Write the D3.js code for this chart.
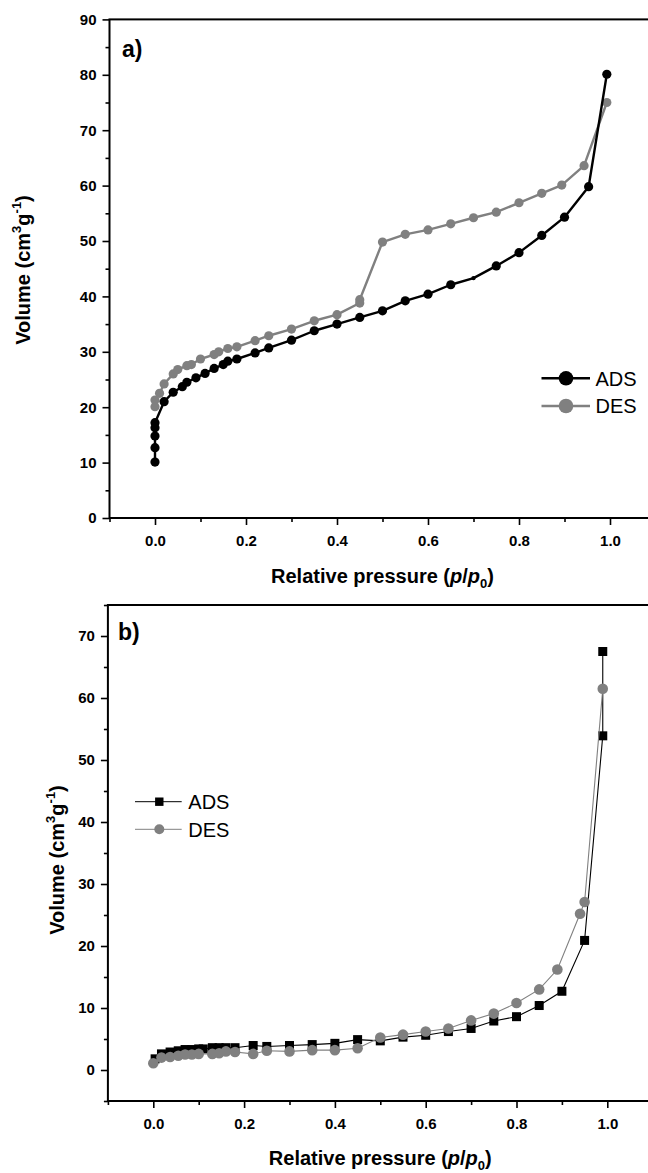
<!DOCTYPE html>
<html>
<head>
<meta charset="utf-8">
<script src="https://cdn.jsdelivr.net/npm/d3@7"></script>
<style>
  html, body { margin: 0; padding: 0; background: #fff; }
  svg { display: block; font-family: Arial, "Liberation Sans", sans-serif; }
</style>
</head>
<body>
<svg id="chart" width="648" height="1173"></svg>
<script>
// ---- Panel a: N2 isotherm (ADS / DES) ----
const adsA_p = [0, 0, 0, 0, 0, 0.02, 0.04, 0.06, 0.07, 0.09, 0.11, 0.13, 0.15, 0.16, 0.18, 0.22, 0.25, 0.30, 0.35, 0.40, 0.45, 0.50, 0.55, 0.60, 0.65, 0.70, 0.75, 0.80, 0.85, 0.90, 0.953, 0.993];
const adsA_v = [10.1, 12.7, 14.8, 16.3, 17.2, 21.0, 22.7, 23.7, 24.5, 25.3, 26.1, 27.0, 27.7, 28.3, 28.7, 29.8, 30.7, 32.1, 33.8, 35.0, 36.2, 37.4, 39.2, 40.4, 42.1, 43.3, 45.5, 47.9, 51.0, 54.3, 59.8, 80.1];
const desA_p = [0.993, 0.943, 0.894, 0.85, 0.80, 0.75, 0.70, 0.65, 0.60, 0.55, 0.50, 0.45, 0.45, 0.40, 0.35, 0.30, 0.25, 0.22, 0.18, 0.16, 0.14, 0.13, 0.10, 0.08, 0.07, 0.05, 0.04, 0.02, 0.01, 0, 0];
const desA_v = [75.0, 63.6, 60.1, 58.6, 56.9, 55.2, 54.2, 53.1, 52.0, 51.2, 49.8, 39.4, 38.8, 36.7, 35.6, 34.1, 32.9, 32.0, 30.9, 30.6, 30.0, 29.5, 28.7, 27.7, 27.5, 26.8, 26.0, 24.2, 22.5, 21.3, 20.1];

// ---- Panel b: N2 isotherm (ADS / DES) ----
const adsB_p = [0.004, 0.018, 0.037, 0.055, 0.07, 0.085, 0.10, 0.11, 0.13, 0.145, 0.16, 0.18, 0.22, 0.25, 0.30, 0.35, 0.40, 0.45, 0.50, 0.55, 0.60, 0.65, 0.70, 0.75, 0.80, 0.85, 0.90, 0.95, 0.99, 0.99];
const adsB_v = [1.8, 2.6, 2.9, 3.1, 3.3, 3.3, 3.4, 3.4, 3.6, 3.6, 3.6, 3.6, 3.95, 3.8, 3.95, 4.1, 4.3, 4.9, 4.7, 5.3, 5.6, 6.2, 6.7, 7.9, 8.6, 10.4, 12.7, 20.9, 53.9, 67.5];
const desB_p = [0.99, 0.95, 0.94, 0.89, 0.85, 0.80, 0.75, 0.70, 0.65, 0.60, 0.55, 0.50, 0.45, 0.40, 0.35, 0.30, 0.25, 0.22, 0.18, 0.16, 0.145, 0.13, 0.10, 0.085, 0.07, 0.055, 0.037, 0.018, 0];
const desB_v = [61.5, 27.1, 25.2, 16.2, 13.0, 10.8, 9.1, 8.0, 6.7, 6.2, 5.7, 5.25, 3.5, 3.2, 3.2, 3.0, 3.1, 2.6, 2.9, 3.0, 2.7, 2.6, 2.6, 2.5, 2.5, 2.3, 2.1, 2.0, 1.1];

// ---- Axis ticks ----
const xMajor = [0, 0.2, 0.4, 0.6, 0.8, 1.0];
const xMinor = [-0.1, 0.1, 0.3, 0.5, 0.7, 0.9, 1.1];
const yMajorA = [0, 10, 20, 30, 40, 50, 60, 70, 80, 90];
const yMinorA = [5, 15, 25, 35, 45, 55, 65, 75, 85];
const yMajorB = [0, 10, 20, 30, 40, 50, 60, 70];
const yMinorB = [-5, 5, 15, 25, 35, 45, 55, 65, 75];
const seriesNames = ["ADS", "DES"];

const BLACK = "#000", GRAY = "#808080";
const svg = d3.select("#chart");
svg.append("rect").attr("width", 648).attr("height", 1173).attr("fill", "#fff");

function zip(ps, vs) { return ps.map((p, i) => ({ p, v: vs[i] })); }

function drawFrame(g, x, y, yMajor, yMinor) {
  const [x0, x1] = x.range();
  const [y0, y1] = y.range();
  // minor + major ticks
  g.append("g").attr("transform", `translate(0,${y0})`)
    .call(d3.axisBottom(x).tickValues(xMinor).tickSize(4).tickFormat(""))
    .call(s => s.select(".domain").remove())
    .call(s => s.selectAll("line").attr("stroke-width", 1.6));
  g.append("g").attr("transform", `translate(0,${y0})`)
    .call(d3.axisBottom(x).tickValues(xMajor).tickSize(7).tickPadding(10).tickFormat(d3.format(".1f")))
    .call(s => s.select(".domain").remove())
    .call(s => s.selectAll("line").attr("stroke-width", 1.6))
    .call(s => s.selectAll("text").attr("font-size", 15).attr("font-weight", "bold").attr("fill", "#000"));
  g.append("g").attr("transform", `translate(${x0},0)`)
    .call(d3.axisLeft(y).tickValues(yMinor).tickSize(4).tickFormat(""))
    .call(s => s.select(".domain").remove())
    .call(s => s.selectAll("line").attr("stroke-width", 1.6));
  g.append("g").attr("transform", `translate(${x0},0)`)
    .call(d3.axisLeft(y).tickValues(yMajor).tickSize(7).tickPadding(6).tickFormat(d3.format("d")))
    .call(s => s.select(".domain").remove())
    .call(s => s.selectAll("line").attr("stroke-width", 1.6))
    .call(s => s.selectAll("text").attr("font-size", 15).attr("font-weight", "bold").attr("fill", "#000"));
  g.append("rect").attr("x", x0).attr("y", y1).attr("width", x1 - x0).attr("height", y0 - y1)
    .attr("fill", "none").attr("stroke", "#000").attr("stroke-width", 2);
}

function xTitle(g, x, baseline) {
  const [x0, x1] = x.range();
  const t = g.append("text").attr("x", (x0 + x1) / 2).attr("y", baseline)
    .attr("text-anchor", "middle").attr("font-size", 20).attr("font-weight", "bold");
  t.append("tspan").text("Relative pressure (");
  t.append("tspan").attr("font-style", "italic").text("p");
  t.append("tspan").text("/");
  t.append("tspan").attr("font-style", "italic").text("p");
  t.append("tspan").attr("font-size", 13).attr("dy", 5).text("0");
  t.append("tspan").attr("dy", -5).text(")");
}

function yTitle(g, cx, cy) {
  const t = g.append("text").attr("transform", `translate(${cx},${cy}) rotate(-90)`)
    .attr("text-anchor", "middle").attr("font-size", 20).attr("font-weight", "bold");
  t.append("tspan").text("Volume (cm");
  t.append("tspan").attr("font-size", 13).attr("dy", -9).text("3");
  t.append("tspan").attr("dy", 9).text("g");
  t.append("tspan").attr("font-size", 13).attr("dy", -9).text("-1");
  t.append("tspan").attr("dy", 9).text(")");
}

// ================= Panel a =================
{
  const x = d3.scaleLinear().domain([-0.1, 1.1]).range([109.5, 655.5]);
  const y = d3.scaleLinear().domain([0, 90]).range([518, 19.4]);
  const g = svg.append("g");
  drawFrame(g, x, y, yMajorA, yMinorA);

  const line = d3.line().x(d => x(d.p)).y(d => y(d.v));
  const series = [
    { name: seriesNames[1], color: GRAY, data: zip(desA_p, desA_v) },
    { name: seriesNames[0], color: BLACK, data: zip(adsA_p, adsA_v) }
  ];
  series.forEach(s => {
    g.append("path").datum(s.data).attr("d", line).attr("fill", "none")
      .attr("stroke", s.color).attr("stroke-width", 2.4).attr("stroke-linejoin", "round");
    g.selectAll(null).data(s.data).join("circle")
      .attr("cx", d => x(d.p)).attr("cy", d => y(d.v))
      .attr("r", d => (s.name === "ADS" && d.p === 0.70) ? 2.2 : 4.6)
      .attr("fill", s.color);
  });

  g.append("text").attr("x", 122).attr("y", 57).attr("font-size", 23).attr("font-weight", "bold").text("a)");

  // legend
  const leg = [{ name: seriesNames[0], color: BLACK, cy: 378.3 }, { name: seriesNames[1], color: GRAY, cy: 406 }];
  leg.forEach(l => {
    g.append("line").attr("x1", 541.5).attr("x2", 590).attr("y1", l.cy).attr("y2", l.cy)
      .attr("stroke", l.color).attr("stroke-width", 2.6);
    g.append("circle").attr("cx", 566).attr("cy", l.cy).attr("r", 7.3).attr("fill", l.color);
    g.append("text").attr("x", 595.5).attr("y", l.cy + 7.3).attr("font-size", 20).text(l.name);
  });

  xTitle(g, x, 583);
  yTitle(g, 30, 270);
}

// ================= Panel b =================
{
  const x = d3.scaleLinear().domain([-0.1, 1.1]).range([107.9, 652.7]);
  const y = d3.scaleLinear().domain([-5, 75]).range([1101, 605]);
  const g = svg.append("g");
  drawFrame(g, x, y, yMajorB, yMinorB);

  const line = d3.line().x(d => x(d.p)).y(d => y(d.v));
  const ads = zip(adsB_p, adsB_v), des = zip(desB_p, desB_v);
  g.append("path").datum(ads).attr("d", line).attr("fill", "none").attr("stroke", BLACK).attr("stroke-width", 1.1);
  g.selectAll(null).data(ads).join("rect")
    .attr("x", d => x(d.p) - 4.5).attr("y", d => y(d.v) - 4.5)
    .attr("width", 9).attr("height", 9).attr("fill", BLACK);
  g.append("path").datum(des).attr("d", line).attr("fill", "none").attr("stroke", GRAY).attr("stroke-width", 1.1);
  g.selectAll(null).data(des).join("circle")
    .attr("cx", d => x(d.p)).attr("cy", d => y(d.v)).attr("r", 5.3).attr("fill", GRAY);

  g.append("text").attr("x", 118).attr("y", 640).attr("font-size", 23).attr("font-weight", "bold").text("b)");

  // legend
  const lx1 = 135, lx2 = 181.7, mx = 159.3, tx = 188.3;
  g.append("line").attr("x1", lx1).attr("x2", lx2).attr("y1", 801.7).attr("y2", 801.7).attr("stroke", BLACK).attr("stroke-width", 1);
  g.append("rect").attr("x", mx - 4.2).attr("y", 801.7 - 4.2).attr("width", 8.4).attr("height", 8.4).attr("fill", BLACK);
  g.append("text").attr("x", tx).attr("y", 801.7 + 7.3).attr("font-size", 20).text(seriesNames[0]);
  g.append("line").attr("x1", lx1).attr("x2", lx2).attr("y1", 829.3).attr("y2", 829.3).attr("stroke", GRAY).attr("stroke-width", 1);
  g.append("circle").attr("cx", mx).attr("cy", 829.3).attr("r", 5).attr("fill", GRAY);
  g.append("text").attr("x", tx).attr("y", 829.3 + 7.3).attr("font-size", 20).text(seriesNames[1]);

  xTitle(g, x, 1165);
  yTitle(g, 64, 860);
}
</script>
</body>
</html>
